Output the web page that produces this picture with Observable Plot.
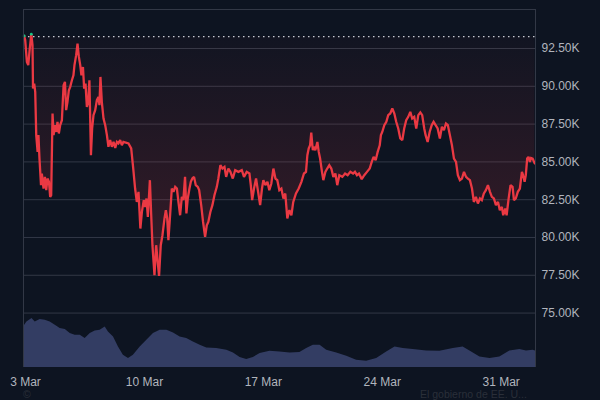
<!DOCTYPE html>
<html><head><meta charset="utf-8">
<script src="https://cdn.jsdelivr.net/npm/d3@7"></script>
<script src="https://cdn.jsdelivr.net/npm/@observablehq/plot@0.6"></script>
<style>
html,body{margin:0;padding:0;background:#0d1421;width:600px;height:400px;overflow:hidden}
#chart{position:relative;width:600px;height:400px}
.note{position:absolute;font:10.5px/10px "Liberation Sans",Arial,sans-serif;color:#2a2f39;white-space:nowrap}
</style></head>
<body><div id="chart"></div>
<script>
// Days since 3 Mar 2025 00:00 UTC, BTC price in thousands of USD
const priceDay = [-0.08,-0.02,0.08,0.16,0.24,0.34,0.41,0.44,0.51,0.57,0.63,0.71,0.76,0.82,0.91,0.96,1.06,1.14,1.22,1.29,1.38,1.45,1.51,1.59,1.65,1.73,1.81,1.88,1.96,2.04,2.14,2.24,2.32,2.39,2.47,2.55,2.63,2.73,2.82,2.88,2.98,3.06,3.14,3.22,3.29,3.38,3.45,3.53,3.61,3.69,3.76,3.85,3.92,4.0,4.1,4.2,4.29,4.35,4.41,4.49,4.59,4.69,4.79,4.88,4.98,5.08,5.18,5.28,5.38,5.47,5.57,5.67,5.76,6.06,6.22,6.34,6.45,6.55,6.65,6.76,6.85,6.96,7.04,7.12,7.2,7.32,7.39,7.47,7.59,7.69,7.76,7.86,7.96,8.06,8.18,8.26,8.34,8.41,8.51,8.61,8.71,8.81,8.91,9.0,9.1,9.2,9.29,9.39,9.47,9.55,9.65,9.73,9.82,9.92,10.02,10.14,10.22,10.34,10.45,10.57,10.67,10.76,10.88,11.0,11.12,11.26,11.35,11.47,11.59,11.71,11.81,11.94,12.06,12.2,12.34,12.53,12.73,12.86,13.02,13.18,13.26,13.34,13.45,13.57,13.69,13.81,13.92,14.0,14.12,14.24,14.35,14.47,14.59,14.71,14.82,14.94,15.06,15.18,15.29,15.41,15.53,15.65,15.76,15.92,16.08,16.24,16.39,16.51,16.59,16.67,16.75,16.82,16.91,16.98,17.06,17.18,17.26,17.34,17.45,17.53,17.65,17.76,17.88,18.0,18.12,18.24,18.35,18.47,18.65,18.81,18.96,19.12,19.28,19.39,19.51,19.63,19.79,19.94,20.1,20.26,20.38,20.49,20.61,20.73,20.85,20.92,21.0,21.12,21.24,21.35,21.47,21.59,21.71,21.82,21.94,22.06,22.18,22.29,22.41,22.53,22.65,22.76,22.88,23.0,23.12,23.24,23.35,23.47,23.55,23.67,23.79,23.91,24.02,24.14,24.26,24.39,24.51,24.63,24.75,24.86,24.98,25.1,25.22,25.34,25.45,25.57,25.69,25.81,25.93,26.04,26.16,26.28,26.39,26.51,26.63,26.75,26.86,26.98,27.1,27.22,27.34,27.45,27.57,27.69,27.81,27.92,28.04,28.12,28.24,28.32,28.44,28.55,28.67,28.75,28.86,28.98,29.1,29.22,29.29,29.38,29.45,29.53,29.61,29.69,29.76,29.85,29.92,29.98];
const priceK = [93.33,93.05,91.61,91.4,92.39,93.45,92.72,89.85,90.18,89.63,86.77,85.66,86.77,85.22,83.46,84.23,83.24,84.01,83.13,83.9,83.68,82.69,82.8,88.2,86.77,87.43,86.98,87.65,86.88,87.43,87.76,90.07,90.29,88.42,88.97,89.74,89.96,90.4,90.73,91.4,92.06,92.83,91.94,91.4,90.73,91.28,89.85,90.18,88.64,88.97,90.4,85.44,87.21,88.09,88.42,89.08,89.3,88.75,90.62,88.97,87.87,87.43,86.77,86.0,86.44,86.0,86.32,85.93,86.32,86.22,86.44,86.1,86.32,86.22,85.89,84.56,83.24,82.35,83.02,80.59,81.69,82.47,82.02,82.58,81.36,83.79,81.69,79.49,77.5,79.49,78.61,77.46,79.49,80.15,81.26,81.81,81.26,79.82,81.47,83.24,83.02,83.35,83.24,82.35,81.47,82.69,82.47,84.01,81.59,82.58,83.24,83.68,83.9,84.01,83.46,83.35,83.13,82.14,81.03,80.04,80.81,81.03,81.69,82.14,82.8,83.35,83.9,84.78,84.56,84.67,84.01,84.56,84.34,83.9,84.45,84.34,84.45,84.01,84.34,84.23,83.46,82.47,83.24,83.9,83.02,82.14,83.24,83.79,83.46,83.68,83.13,83.57,84.56,83.9,83.79,83.13,83.24,82.58,82.91,81.26,81.81,81.47,82.35,82.91,83.24,83.68,84.23,84.34,85.44,85.89,86.1,86.94,85.77,86.0,85.77,86.32,85.66,85.22,84.34,83.79,84.34,84.56,84.78,84.56,84.01,84.23,83.46,84.12,84.01,84.23,84.12,84.34,84.23,84.34,84.12,84.23,83.86,84.12,84.34,84.56,85.0,85.33,85.11,85.66,86.1,86.77,86.98,87.43,87.65,88.09,88.2,88.53,88.2,87.65,87.21,86.55,86.44,87.21,87.76,87.98,88.31,87.87,87.98,87.21,88.09,88.27,88.09,87.21,86.77,86.32,86.98,87.43,87.65,87.43,87.21,86.55,87.32,87.1,87.54,87.43,86.77,86.1,85.22,85.0,84.12,83.79,83.9,84.34,84.01,83.9,83.79,83.24,82.35,82.69,82.25,82.58,82.47,82.91,83.13,83.46,83.02,82.69,82.58,82.14,82.35,81.81,82.02,81.47,81.92,81.47,82.58,83.46,83.35,82.47,82.58,83.02,83.24,84.34,84.12,83.68,84.12,85.22,85.33,85.0,85.26,85.22,85.04,84.9];

// Trading volume (billions USD, estimated)
const volDay = [-0.12,0.08,0.38,0.57,0.86,1.16,1.45,1.75,2.04,2.34,2.63,2.92,3.22,3.51,3.81,4.1,4.39,4.69,4.88,5.18,5.47,5.76,6.06,6.35,6.75,7.14,7.53,7.92,8.32,8.71,9.1,9.49,9.88,10.28,10.67,11.26,11.85,12.24,12.63,13.02,13.41,13.81,14.39,14.98,15.57,16.15,16.55,16.94,17.34,17.73,18.32,18.91,19.49,20.08,20.67,21.26,21.75,22.24,22.82,23.61,24.39,25.18,25.76,26.16,26.75,27.34,27.92,28.51,29.1,29.49,29.88,30.02];
const volB = [40.6,45.6,49,45.6,48,47.3,45.6,42.3,39,38,34,32.3,32.3,29,34,36.6,37.3,40.6,35.6,30.6,20.6,12.3,9,12.3,20.6,27.3,34,37.3,37.3,34.6,30.6,29,25.6,22.3,19.6,19,17.3,14.6,10,8,10,14,16.3,15.6,14.6,15,19,22.3,22.3,17.3,14.6,11.3,7.3,6.3,9,15.6,20.6,19,18,16.6,16.3,19,20.6,16.6,10.6,9,10.6,16.6,18,16.6,17.3,16.6];

const xTickLabels = ["2025-03-03","2025-03-10","2025-03-17","2025-03-24","2025-03-31"];
const yTicks = [75, 77.5, 80, 82.5, 85, 87.5, 90, 92.5];
const BASE = 93.29;          // opening price (dotted baseline)
const Y_MIN = 71.4, Y_MAX = 95.08;
const VOL_FULL = 358;        // volume that would fill the whole pane height
const DAY_RANGE = [-0.12, 30.02];

const START = Date.UTC(2025, 2, 3);
const toDate = d => new Date(START + d * 864e5);

const prices = priceDay.map((d, i) => ({date: toDate(d), p: priceK[i]}));
const vols = volDay.map((d, i) => ({date: toDate(d), v: volB[i]}));
const xDomain = DAY_RANGE.map(toDate);
const peak = prices.filter(d => d.p > BASE);

const svg = Plot.plot({
  width: 600, height: 400,
  marginLeft: 23, marginRight: 65, marginTop: 9, marginBottom: 33,
  style: {background: "#0d1421", color: "#b1b5bd", fontFamily: "Liberation Sans, Arial, sans-serif", fontSize: "12px"},
  x: {type: "utc", domain: xDomain, ticks: xTickLabels.map(s => new Date(s + "T00:00Z")),
      tickFormat: d3.utcFormat("%-d %b"), tickSize: 0, tickPadding: 10, label: null},
  y: {domain: [Y_MIN, Y_MAX], axis: "right", ticks: yTicks, tickFormat: d => d.toFixed(2) + "K",
      tickSize: 0, tickPadding: 6, label: null},
  marks: [
    Plot.areaY(vols, {x: "date", y1: Y_MIN, y2: d => Y_MIN + d.v / VOL_FULL * (Y_MAX - Y_MIN), fill: "#333d63"}),
    Plot.ruleY(yTicks, {stroke: "#323846", strokeWidth: 1}),
    Plot.areaY(prices, {x: "date", y1: BASE, y2: "p", fill: "url(#redFade)"}),
    Plot.ruleY([BASE], {stroke: "#c8ccd4", strokeDasharray: "1.5,3.5", strokeWidth: 1.2}),
    Plot.line(prices, {x: "date", y: "p", stroke: "#ea3943", strokeWidth: 2.3, strokeLinejoin: "miter", strokeMiterlimit: 2}),
    Plot.dot(peak, {x: "date", y: "p", r: 1.4, fill: "#16c784"}),
    Plot.ruleX(xDomain, {stroke: "#323846"}),
    Plot.ruleY([Y_MAX], {stroke: "#323846"})
  ]
});

const ns = "http://www.w3.org/2000/svg";
const defs = document.createElementNS(ns, "defs");
defs.innerHTML = '<linearGradient id="redFade" x1="0" y1="0" x2="0" y2="1">' +
  '<stop offset="0" stop-color="#ea3943" stop-opacity="0.02"/>' +
  '<stop offset="1" stop-color="#ea3943" stop-opacity="0.2"/></linearGradient>';
svg.insertBefore(defs, svg.firstChild);

const chart = document.getElementById("chart");
chart.appendChild(svg);
const n1 = document.createElement("div");
n1.className = "note"; n1.style.left = "420px"; n1.style.top = "389px";
n1.textContent = "El gobierno de EE. U...";
chart.appendChild(n1);
const n2 = document.createElement("div");
n2.className = "note"; n2.style.left = "23px"; n2.style.top = "389px";
n2.textContent = "©";
chart.appendChild(n2);
</script>
</body></html>
